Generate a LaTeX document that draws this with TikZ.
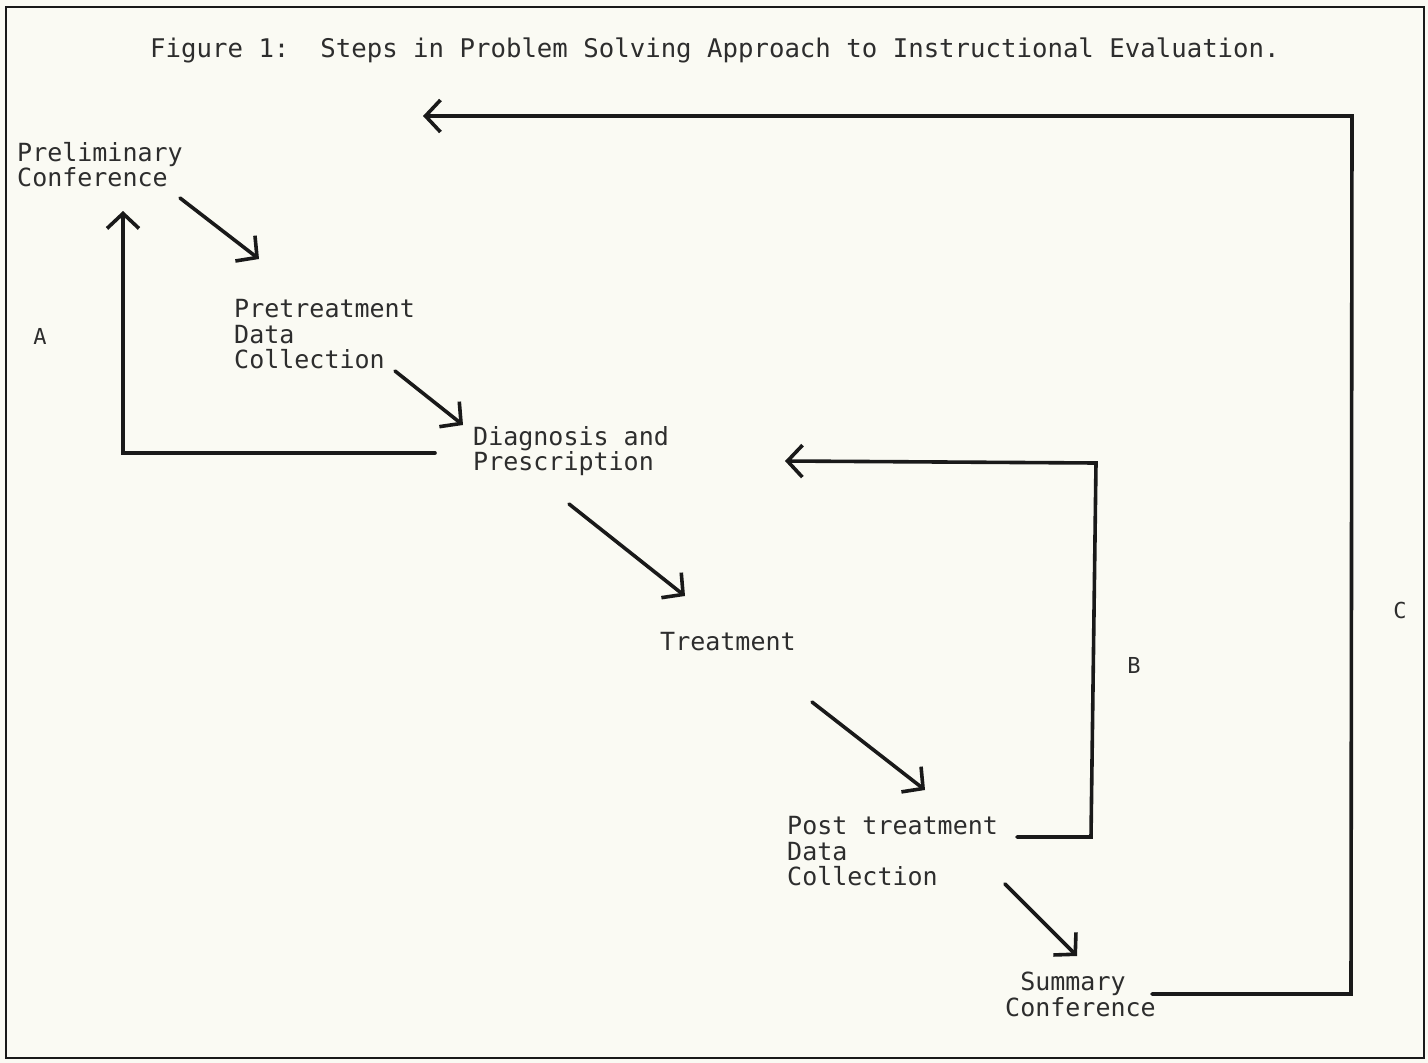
\documentclass[tikz,border=0pt]{standalone}
\usepackage{fontspec}
\usetikzlibrary{arrows.meta}
\newfontfamily\twfont{DejaVu Sans Mono}
\definecolor{paper}{RGB}{250,250,243}
\definecolor{ink}{RGB}{45,45,45}
\definecolor{lineink}{RGB}{25,25,25}
\tikzset{
  lbl/.style={anchor=north west, inner sep=0pt, align=left, text=ink,
    font=\twfont\fontsize{25}{25.6}\selectfont},
  titlelbl/.style={anchor=north west, inner sep=0pt, text=ink,
    font=\twfont\fontsize{25.7}{26}\selectfont},
  letter/.style={inner sep=0pt, text=ink, font=\twfont\fontsize{22}{24}\selectfont},
  arr/.style={draw=lineink, line width=3.6pt, line cap=round, line join=miter,
    -{Straight Barb[length=15pt,width=32pt,line width=3.6pt]}},
  frame/.style={draw=lineink, line width=2.6pt}
}
\begin{document}
\begin{tikzpicture}[x=1pt,y=-1pt]
\useasboundingbox[fill=paper] (0,0) rectangle (1428,1063);
\draw[frame] (6,7) rectangle (1424,1058);

\node[titlelbl] (title) at (150,38) {Figure 1:\ \ Steps in Problem Solving Approach to Instructional Evaluation.};

\node[lbl] (prel)  at (17,142)  {Preliminary\\Conference};
\node[lbl] (pret)  at (234,299) {Pretreatment\\Data\\Collection};
\node[lbl] (diag)  at (473,426) {Diagnosis and\\Prescription};
\node[lbl] (treat) at (660,632) {Treatment};
\node[lbl] (post)  at (787,816) {Post treatment\\Data\\Collection};
\node[lbl] (summ)  at (1005,972) {\phantom{C}Summary\\Conference};

\node[letter] (la) at (40,336) {A};
\node[letter] (lb) at (1134,665) {B};
\node[letter] (lc) at (1400,610) {C};

% forward steps
\coordinate (p1s) at (180,198); \coordinate (p1e) at (259,259);
\coordinate (p2s) at (395,371); \coordinate (p2e) at (463,425);
\coordinate (p3s) at (569,504); \coordinate (p3e) at (685,596);
\coordinate (p4s) at (812,702); \coordinate (p4e) at (925,790);
\coordinate (p5s) at (1005,884); \coordinate (p5e) at (1077,956);
\draw[arr] (p1s) -- (p1e);
\draw[arr] (p2s) -- (p2e);
\draw[arr] (p3s) -- (p3e);
\draw[arr] (p4s) -- (p4e);
\draw[arr] (p5s) -- (p5e);

% loop A
\coordinate (as) at (435,453); \coordinate (ac) at (123,453); \coordinate (ae) at (123,211);
\draw[arr] (as) -- (ac) -- (ae);

% loop B
\coordinate (bs) at (1017,837); \coordinate (bc1) at (1091,837);
\coordinate (bc2) at (1096,463); \coordinate (be) at (785,461);
\draw[arr] (bs) -- (bc1) -- (bc2) -- (be);

% loop C
\coordinate (cs) at (1152,994); \coordinate (cc1) at (1351,994);
\coordinate (cc2) at (1352,116); \coordinate (ce) at (423,116);
\draw[arr] (cs) -- (cc1) -- (cc2) -- (ce);
\end{tikzpicture}
\end{document}
